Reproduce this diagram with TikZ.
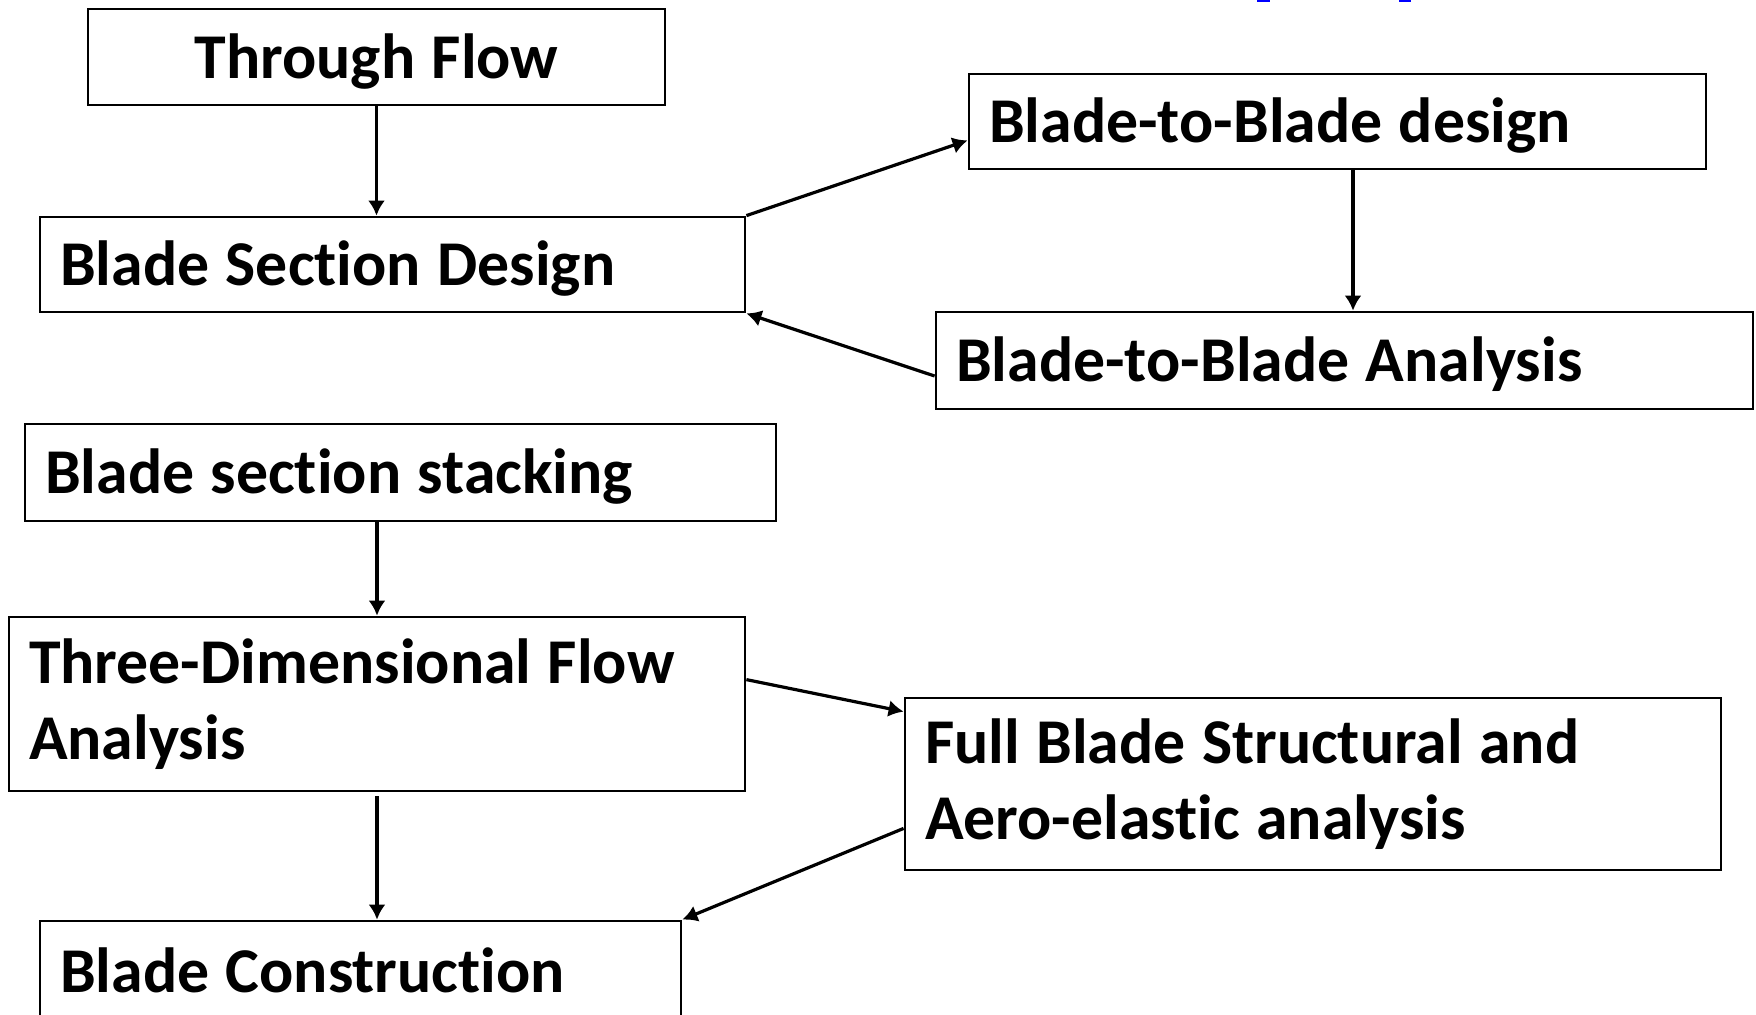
\documentclass[tikz,border=0pt]{standalone}
\usepackage{fontspec}
\setmainfont{Carlito}[Ligatures=NoCommon]
\usetikzlibrary{arrows.meta,calc}
\newcommand\myspace{\spaceskip=8.2pt\relax}
\tikzset{
  box/.style={draw=black, line width=1.4pt, rectangle, inner xsep=10pt, inner ysep=0pt,
    font=\bfseries\fontsize{31.9}{38}\selectfont, align=left, execute at begin node=\myspace},
  oneline/.style={text height=27.5pt, text depth=6.3pt},
  conn/.style={line width=1.6pt, -{Latex[length=7.5pt,width=8.5pt]}}
}
\begin{document}
\begin{tikzpicture}[x=0.5pt,y=-0.5pt]
\useasboundingbox (0,0) rectangle (1756,1014);
\clip (0,0) rectangle (1756,1014);
% fragments of cut-off blue title
\fill[blue] (1257,0) rectangle (1270,2);
\fill[blue] (1399,0) rectangle (1411,2);

\node[box, oneline, minimum width=288.5pt, minimum height=48pt, text width=268.5pt, align=center] (b1) at (376.5,57) {Through Flow};
\node[box, oneline, minimum width=352.5pt, minimum height=47.5pt, text width=332.5pt] (b2) at (392.5,264.5) {Blade Section Design};
\node[box, oneline, minimum width=368.5pt, minimum height=47.5pt, text width=348.5pt] (b3) at (1337.5,121.5) {Blade-to-Blade design};
\node[box, oneline, minimum width=408.5pt, minimum height=48.5pt, text width=388.5pt] (b4) at (1344.5,360.5) {Blade-to-Blade Analysis};
\node[box, oneline, minimum width=375.5pt, minimum height=48.5pt, text width=355.5pt] (b5) at (400.5,472.5) {Blade section stacking};
\node[box, minimum width=368pt, minimum height=87pt, text width=348pt] (b6) at (377,704) {Three-Dimensional Flow\\Analysis};
\node[box, minimum width=408pt, minimum height=86pt, text width=388pt] (b7) at (1313,784) {Full Blade Structural and\\Aero-elastic analysis};
\node[box, oneline, minimum width=320.5pt, minimum height=50pt, text width=300.5pt] (b8) at (360.5,971) {Blade Construction};

\draw[conn] (b1.south) -- (b1.south |- b2.north);
\draw[conn] (b2.north east) -- ([yshift=15pt]b3.south west);
\draw[conn] ([xshift=7.75pt]b3.south) -- ([xshift=7.75pt]b3.south |- b4.north);
\draw[conn] ([yshift=-7.75pt]b4.west) -- (b2.south east);
\draw[conn] (b6.north |- b5.south) -- (b6.north);
\draw[conn] ([yshift=-32pt]b6.north east) -- ([yshift=-7.5pt]b7.north west);
\draw[conn] ([yshift=-2pt]b6.south) -- (b6.south |- b8.north);
\draw[conn] ([yshift=21.5pt]b7.south west) -- (b8.north east);
\end{tikzpicture}
\end{document}
